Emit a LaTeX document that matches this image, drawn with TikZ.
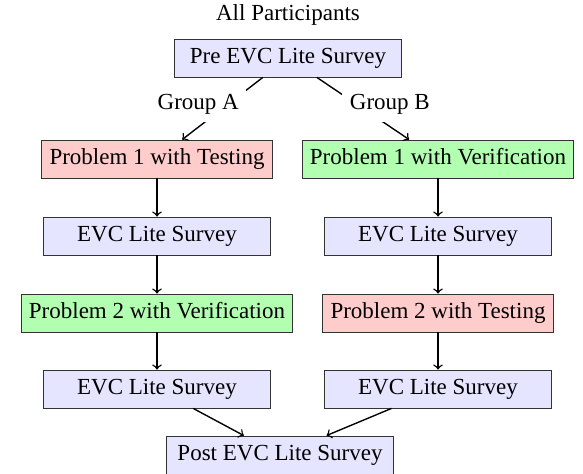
\documentclass[tikz,border=0pt]{standalone}
\usepackage{fontspec}
\setmainfont{Liberation Serif}
\usetikzlibrary{positioning}

\begin{document}
\begin{tikzpicture}[x=0.4348pt,y=-0.4348pt,semithick,
	box/.style={draw=black!80,thin,minimum width=98.7pt,minimum height=16.5pt,text height=7pt,text depth=2pt},
	survey/.style={box,fill=blue!10},
	testing/.style={box,fill=red!20},
	verify/.style={box,fill=green!30},
	group/.style={fill=white}]
	\useasboundingbox (0,0) rectangle (583,474);
	\node[survey] (pre) at (288,58) {Pre EVC Lite Survey};
	\node[above=2pt of pre] (all) {All Participants};
	\node[testing] (p1a) at (157,159) {Problem 1 with Testing};
	\node[verify] (p1b) at (438,159) {Problem 1 with Verification};
	\node[survey] (s1a) at (157,236) {EVC Lite Survey};
	\node[survey] (s1b) at (438,236) {EVC Lite Survey};
	\node[verify] (p2a) at (157,313) {Problem 2 with Verification};
	\node[testing] (p2b) at (438,313) {Problem 2 with Testing};
	\node[survey] (s2a) at (157,389) {EVC Lite Survey};
	\node[survey] (s2b) at (438,389) {EVC Lite Survey};
	\node[survey] (post) at (280,455) {Post EVC Lite Survey};
	\draw[->] (pre) -- node[group,pos=0.43,xshift=-13pt] (grpa) {Group A} (p1a);
	\draw[->] (pre) -- node[group,pos=0.43,xshift=14.5pt] (grpb) {Group B} (p1b);
	\draw[->] (p1a) -- (s1a);
	\draw[->] (s1a) -- (p2a);
	\draw[->] (p2a) -- (s2a);
	\draw[->] (p1b) -- (s1b);
	\draw[->] (s1b) -- (p2b);
	\draw[->] (p2b) -- (s2b);
	\draw[->] (s2a) -- (post);
	\draw[->] (s2b) -- (post);
\end{tikzpicture}
\end{document}
